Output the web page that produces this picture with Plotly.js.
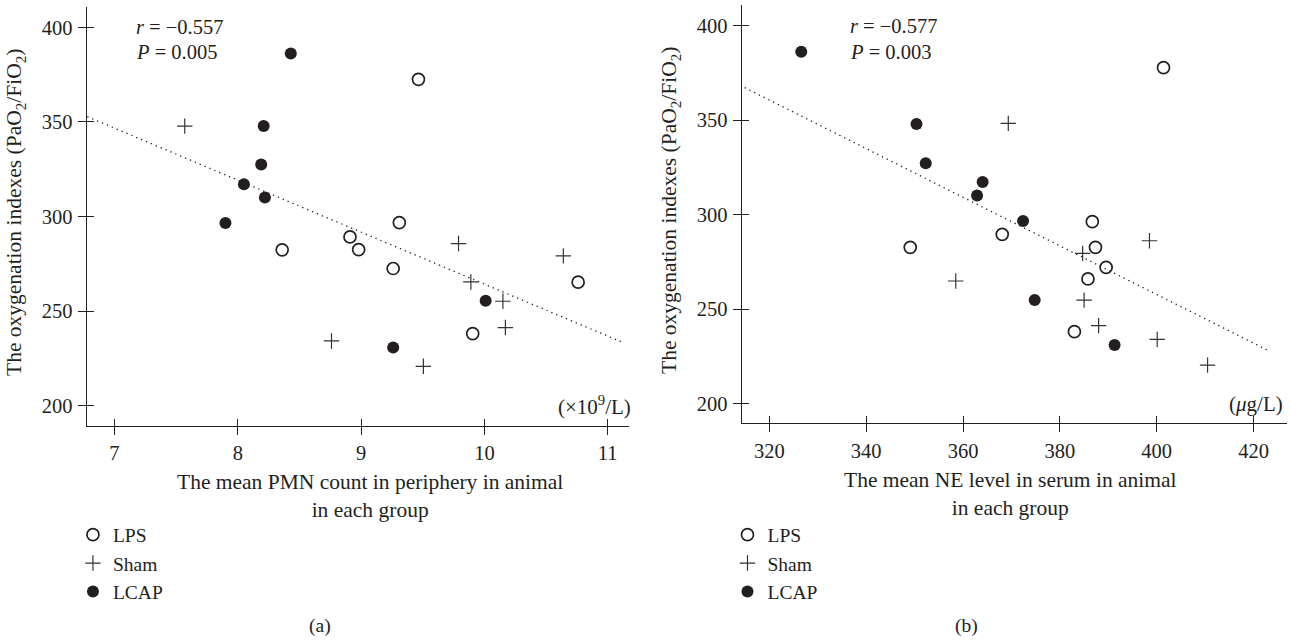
<!DOCTYPE html>
<html>
<head>
<meta charset="utf-8">
<script src="https://cdn.plot.ly/plotly-3.0.1.min.js"></script>
<style>
  html, body { margin: 0; padding: 0; background: #ffffff; }
  #chart { width: 1291px; height: 640px; }
</style>
</head>
<body>
<div id="chart"></div>
<script>
// ---------- data ----------
var groupNames = ['LPS', 'Sham', 'LCAP'];

// Panel (a): mean PMN count (x10^9/L) vs oxygenation index
var lpsPMN_x  = [9.465, 9.31, 8.91, 8.98, 8.36, 9.26, 9.905, 10.76];
var lpsPMN_y  = [372.5, 296.8, 289.2, 282.5, 282.4, 272.5, 238.1, 265.3];
var shamPMN_x = [7.57, 9.79, 9.89, 10.15, 10.17, 8.76, 9.505, 10.64];
var shamPMN_y = [347.8, 285.7, 265.4, 255.2, 241.3, 234.2, 220.8, 279.2];
var lcapPMN_x = [8.43, 8.21, 8.19, 8.05, 8.22, 7.90, 10.01, 9.26];
var lcapPMN_y = [386.2, 347.8, 327.5, 317.1, 310.1, 296.6, 255.4, 230.7];

// Panel (b): mean NE level in serum (ug/L) vs oxygenation index
var lpsNE_x  = [401.4, 386.7, 368.1, 349.1, 387.35, 389.55, 385.8, 383.0];
var lpsNE_y  = [377.8, 296.3, 289.6, 282.7, 282.7, 272.1, 266.0, 238.1];
var shamNE_x = [369.35, 398.5, 384.7, 358.5, 385.0, 388.0, 400.1, 410.5];
var shamNE_y = [348.3, 286.2, 279.5, 264.9, 254.8, 241.3, 234.0, 220.4];
var lcapNE_x = [326.6, 350.4, 352.3, 364.05, 362.9, 372.4, 374.8, 391.3];
var lcapNE_y = [386.2, 348.0, 327.2, 317.3, 310.2, 296.6, 254.8, 231.0];

// statistics text
var statsPMN = ['<i>r</i> = \u22120.557', '<i>P</i> = 0.005'];
var statsNE  = ['<i>r</i> = \u22120.577', '<i>P</i> = 0.003'];

// x-extent of the dotted regression lines
var fitSpanPMN = [6.78, 11.12];
var fitSpanNE  = [314.9, 423.0];

// tick values
var yTicks   = [200, 250, 300, 350, 400];
var pmnTicks = [7, 8, 9, 10, 11];
var neTicks  = [320, 340, 360, 380, 400, 420];

// ---------- helpers ----------
function linfit(xs, ys) {
  var n = xs.length, mx = 0, my = 0, sxy = 0, sxx = 0, i;
  for (i = 0; i < n; i++) { mx += xs[i]; my += ys[i]; }
  mx /= n; my /= n;
  for (i = 0; i < n; i++) { sxy += (xs[i] - mx) * (ys[i] - my); sxx += (xs[i] - mx) * (xs[i] - mx); }
  var b = sxy / sxx;
  return { a: my - b * mx, b: b };
}

var INK = '#231f20';
var FONT = 'Liberation Serif, Times New Roman, serif';

var markerStyles = [
  { symbol: 'circle-open', size: 12, color: INK, line: { width: 1.7, color: INK } },
  { symbol: 'cross-thin-open', size: 11, color: '#333333', line: { width: 1.2, color: '#333333' } },
  { symbol: 'circle', size: 12, color: INK, line: { width: 0 } }
];

function groupTraces(xsets, ysets, xa, ya, legendId) {
  var out = [];
  for (var g = 0; g < 3; g++) {
    out.push({
      type: 'scatter', mode: 'markers',
      x: xsets[g], y: ysets[g], xaxis: xa, yaxis: ya,
      name: groupNames[g], legend: legendId,
      marker: markerStyles[g], hoverinfo: 'x+y'
    });
  }
  return out;
}

function fitTrace(xsets, ysets, span, xa, ya) {
  var xs = [].concat(xsets[0], xsets[1], xsets[2]);
  var ys = [].concat(ysets[0], ysets[1], ysets[2]);
  var f = linfit(xs, ys);
  return {
    type: 'scatter', mode: 'lines', x: span,
    y: [f.a + f.b * span[0], f.a + f.b * span[1]],
    xaxis: xa, yaxis: ya, showlegend: false, hoverinfo: 'skip',
    line: { color: INK, width: 1.3, dash: '1.3px,4px' }
  };
}

var pmnX = [lpsPMN_x, shamPMN_x, lcapPMN_x], pmnY = [lpsPMN_y, shamPMN_y, lcapPMN_y];
var neX  = [lpsNE_x, shamNE_x, lcapNE_x],   neY  = [lpsNE_y, shamNE_y, lcapNE_y];

var traces = [];
traces.push(fitTrace(pmnX, pmnY, fitSpanPMN, 'x', 'y'));
traces = traces.concat(groupTraces(pmnX, pmnY, 'x', 'y', 'legend'));
traces.push(fitTrace(neX, neY, fitSpanNE, 'x2', 'y2'));
traces = traces.concat(groupTraces(neX, neY, 'x2', 'y2', 'legend2'));
// empty traces so the overlay axes (inner half of the crossing ticks) are drawn
traces.push({ type: 'scatter', mode: 'markers', x: [], y: [], xaxis: 'x3', yaxis: 'y3', showlegend: false, hoverinfo: 'skip' });
traces.push({ type: 'scatter', mode: 'markers', x: [], y: [], xaxis: 'x4', yaxis: 'y4', showlegend: false, hoverinfo: 'skip' });

var tickFont = { family: FONT, size: 20.5, color: INK };

function mainAxis(extra) {
  var base = {
    showgrid: false, zeroline: false, showline: true,
    linecolor: INK, linewidth: 1.3,
    ticks: 'outside', ticklen: 8, tickwidth: 1.3, tickcolor: INK,
    tickfont: tickFont, tickmode: 'array', fixedrange: true
  };
  for (var k in extra) base[k] = extra[k];
  return base;
}
function innerAxis(extra) {
  var base = {
    showgrid: false, zeroline: false, showline: false,
    ticks: 'inside', ticklen: 7, tickwidth: 1.3, tickcolor: INK,
    showticklabels: false, tickmode: 'array', fixedrange: true
  };
  for (var k in extra) base[k] = extra[k];
  return base;
}

var rangeX1 = [6.775, 11.17], rangeY1 = [189.4, 410.6];
var rangeX2 = [314.3, 426.9], rangeY2 = [189.6, 410.95];

var TITLE = 21.5;

var layout = {
  width: 1291, height: 640,
  margin: { l: 0, r: 0, t: 0, b: 0, pad: 0 },
  paper_bgcolor: '#ffffff', plot_bgcolor: 'rgba(0,0,0,0)',
  font: { family: FONT, size: 20.5, color: INK },
  hovermode: 'closest',
  xaxis: mainAxis({ domain: [0.06716, 0.48699], range: rangeX1, tickvals: pmnTicks, anchor: 'y', ticklabelstandoff: 1 }),
  yaxis: mainAxis({ domain: [0.33484, 0.98859], range: rangeY1, tickvals: yTicks, anchor: 'x', ticklabelstandoff: 1 }),
  xaxis2: mainAxis({ domain: [0.57452, 0.99690], range: rangeX2, tickvals: neTicks, anchor: 'y2', ticklabelstandoff: 1 }),
  yaxis2: mainAxis({ domain: [0.33859, 0.99219], range: rangeY2, tickvals: yTicks, anchor: 'x2', ticklabelstandoff: 1 }),
  xaxis3: innerAxis({ overlaying: 'x', anchor: 'y', range: rangeX1, tickvals: pmnTicks }),
  yaxis3: innerAxis({ overlaying: 'y', anchor: 'x', range: rangeY1, tickvals: yTicks }),
  xaxis4: innerAxis({ overlaying: 'x2', anchor: 'y2', range: rangeX2, tickvals: neTicks }),
  yaxis4: innerAxis({ overlaying: 'y2', anchor: 'x2', range: rangeY2, tickvals: yTicks }),
  legend: {
    x: 0.0565, xanchor: 'left', y: 0.1945, yanchor: 'top',
    font: { family: FONT, size: 19.5, color: INK },
    bgcolor: 'rgba(0,0,0,0)', borderwidth: 0, itemwidth: 30, traceorder: 'normal'
  },
  legend2: {
    x: 0.5635, xanchor: 'left', y: 0.1945, yanchor: 'top',
    font: { family: FONT, size: 19.5, color: INK },
    bgcolor: 'rgba(0,0,0,0)', borderwidth: 0, itemwidth: 30, traceorder: 'normal'
  },
  annotations: [
    // statistics
    { xref: 'x', yref: 'y', x: 7.16, y: 400, text: statsPMN[0], showarrow: false, xanchor: 'left', yanchor: 'middle', font: { size: 20.5 } },
    { xref: 'x', yref: 'y', x: 7.16, y: 387, text: statsPMN[1], showarrow: false, xanchor: 'left', yanchor: 'middle', font: { size: 20.5 } },
    { xref: 'x2', yref: 'y2', x: 336.2, y: 400, text: statsNE[0], showarrow: false, xanchor: 'left', yanchor: 'middle', font: { size: 20.5 } },
    { xref: 'x2', yref: 'y2', x: 336.2, y: 386.2, text: statsNE[1], showarrow: false, xanchor: 'left', yanchor: 'middle', font: { size: 20.5 } },
    // units at the right end of the x axes
    { xref: 'x domain', yref: 'y', x: 1, y: 200, text: '(\u00d710<sup>9</sup>/L)', showarrow: false, xanchor: 'right', yanchor: 'middle', xshift: 4, font: { size: 21 } },
    { xref: 'x2 domain', yref: 'y2', x: 1, y: 200, text: '(<i>\u03bc</i>g/L)', showarrow: false, xanchor: 'right', yanchor: 'middle', xshift: -2, font: { size: 21 } },
    // axis titles
    { xref: 'paper', yref: 'paper', x: 370 / 1291, y: 1 - 496 / 640, text: 'The mean PMN count in periphery in animal<br>in each group', showarrow: false, xanchor: 'center', yanchor: 'middle', align: 'center', font: { size: TITLE } },
    { xref: 'paper', yref: 'paper', x: 1010 / 1291, y: 1 - 494 / 640, text: 'The mean NE level in serum in animal<br>in each group', showarrow: false, xanchor: 'center', yanchor: 'middle', align: 'center', font: { size: TITLE } },
    { xref: 'paper', yref: 'paper', x: 16 / 1291, y: 1 - 213 / 640, text: 'The oxygenation indexes (PaO<sub>2</sub>/FiO<sub>2</sub>)', textangle: -90, showarrow: false, xanchor: 'center', yanchor: 'middle', font: { size: TITLE } },
    { xref: 'paper', yref: 'paper', x: 670 / 1291, y: 1 - 211 / 640, text: 'The oxygenation indexes (PaO<sub>2</sub>/FiO<sub>2</sub>)', textangle: -90, showarrow: false, xanchor: 'center', yanchor: 'middle', font: { size: TITLE } },
    // panel labels
    { xref: 'paper', yref: 'paper', x: 320 / 1291, y: 1 - 626 / 640, text: '(a)', showarrow: false, xanchor: 'center', yanchor: 'middle', font: { size: 19.5 } },
    { xref: 'paper', yref: 'paper', x: 966 / 1291, y: 1 - 626 / 640, text: '(b)', showarrow: false, xanchor: 'center', yanchor: 'middle', font: { size: 19.5 } }
  ]
};

Plotly.newPlot('chart', traces, layout, { displayModeBar: false, staticPlot: false });
</script>
</body>
</html>
